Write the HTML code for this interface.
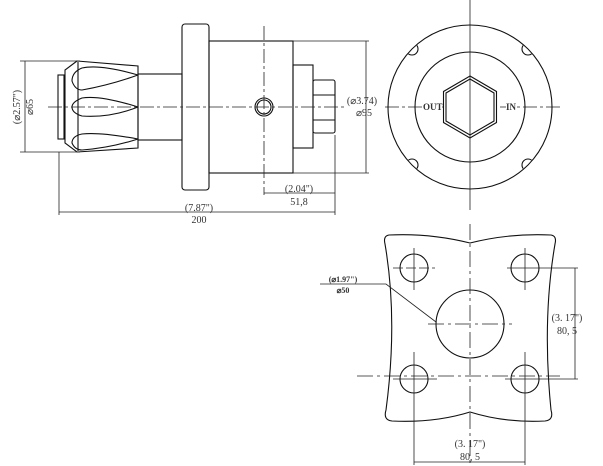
<!DOCTYPE html>
<html><head><style>
html,body{margin:0;padding:0;background:#fff;width:603px;height:466px;overflow:hidden}
svg text{font-family:"Liberation Serif",serif;fill:#333}
</style></head><body>
<svg width="603" height="466" viewBox="0 0 603 466" xmlns="http://www.w3.org/2000/svg">
<defs><clipPath id="oc"><circle cx="470" cy="107" r="81.4"/></clipPath></defs>
<g fill="none" stroke="#111" stroke-width="1.1">
<!-- left view -->
<rect x="182" y="24" width="27" height="166" rx="3"/>
<rect x="209" y="41" width="84" height="132"/>
<rect x="293" y="65" width="20" height="83"/>
<rect x="313" y="80" width="22" height="53" rx="2"/>
<line x1="313" y1="95" x2="335" y2="95"/><line x1="313" y1="120" x2="335" y2="120"/>
<rect x="138" y="74" width="44" height="66"/>
<path d="M77 61 L138 66 L138 148 L77 152 L65 143 L65 70 Z"/>
<rect x="58" y="75" width="6" height="64"/>
<line x1="78" y1="62" x2="78" y2="151"/>
<path d="M138 75 Q100 64 82 68 Q72 72 72 81 Q75 90 82 90 Q110 85 138 75"/>
<path d="M138 107 Q100 95 82 98 Q72 102 72 107 Q72 113 82 116 Q110 118 138 107"/>
<path d="M138 139 Q100 132 82 134 Q72 136 72 143 Q75 150 82 150 Q110 148 138 139"/>
<circle cx="264" cy="107" r="9"/><circle cx="264" cy="107" r="7"/>
</g>
<g stroke="#222" stroke-width="0.8" fill="none">
<line x1="48" y1="107" x2="345" y2="107" stroke-dasharray="14,3,3,3"/>
<line x1="264" y1="26" x2="264" y2="195" stroke-dasharray="14,3,3,3"/>
<line x1="20" y1="61" x2="80" y2="61"/><line x1="20" y1="152" x2="80" y2="152"/>
<line x1="25" y1="61" x2="25" y2="152"/>
<line x1="293" y1="41" x2="369" y2="41"/><line x1="293" y1="173" x2="369" y2="173"/>
<line x1="366" y1="41" x2="366" y2="173"/>
<line x1="264" y1="193" x2="335" y2="193"/><line x1="335" y1="135" x2="335" y2="215"/>
<line x1="59" y1="152" x2="59" y2="215"/>
<line x1="59" y1="212" x2="335" y2="212"/>
</g>
<g font-size="10">
<text transform="translate(20,107) rotate(-90)" text-anchor="middle">(⌀2.57")</text>
<text transform="translate(33,107) rotate(-90)" text-anchor="middle">⌀65</text>
<text x="362" y="104" text-anchor="middle">(⌀3.74)</text>
<text x="364" y="116" text-anchor="middle">⌀95</text>
<text x="299" y="192" text-anchor="middle">(2.04")</text>
<text x="299" y="205" text-anchor="middle">51,8</text>
<text x="199" y="211" text-anchor="middle">(7.87")</text>
<text x="199" y="223" text-anchor="middle">200</text>
</g>
<!-- right view -->
<g stroke="#222" stroke-width="0.8">
<line x1="470" y1="0" x2="470" y2="210"/>
<line x1="385" y1="107" x2="560" y2="107" stroke-dasharray="14,3,3,3"/>
</g>
<g fill="none" stroke="#111" stroke-width="1.1">
<circle cx="470" cy="107" r="82"/>
<circle cx="470" cy="107" r="55"/>
<polygon points="470,76 496.5,91.5 496.5,122.5 470,138 443.5,122.5 443.5,91.5" fill="#fff"/>
<polygon points="470,79 494,93 494,121 470,135 446,121 446,93"/>
<g fill="#fff" clip-path="url(#oc)">
<circle cx="412" cy="49" r="6"/><circle cx="528" cy="49" r="6"/>
<circle cx="412" cy="165" r="6"/><circle cx="528" cy="165" r="6"/>
</g>
</g>
<line x1="470" y1="76" x2="470" y2="138" stroke="#222" stroke-width="0.8"/>
<g font-size="9" font-weight="bold">
<rect x="423" y="101" width="19" height="11" fill="#fff"/><text x="423" y="110">OUT</text>
<rect x="506" y="101" width="11" height="11" fill="#fff"/><text x="506" y="110">IN</text></g>
<!-- bottom view -->
<g fill="none" stroke="#111" stroke-width="1.1">
<path d="M389 235 Q430 233 470 243 Q510 233 551 235 Q557 236 555 244 Q542 320 551 410 Q554 420 545 421 Q505 423 470 412 Q435 423 392 421 Q383 420 386 410 Q398 320 385 244 Q383 236 389 235 Z"/>
<circle cx="470" cy="324" r="34"/>
<circle cx="414" cy="268" r="14"/><circle cx="525" cy="268" r="14"/>
<circle cx="414" cy="379" r="14"/><circle cx="525" cy="379" r="14"/>
</g>
<g stroke="#222" stroke-width="0.8" fill="none">
<line x1="470" y1="224" x2="470" y2="466" stroke-dasharray="16,4,3,4"/>
<line x1="357" y1="376" x2="560" y2="376" stroke-dasharray="16,4,3,4"/>
<line x1="428" y1="324" x2="512" y2="324" stroke-dasharray="16,4,3,4"/>
<line x1="393" y1="268" x2="435" y2="268" stroke-dasharray="10,3"/><line x1="414" y1="248" x2="414" y2="290"/>
<line x1="507" y1="268" x2="578" y2="268"/><line x1="525" y1="248" x2="525" y2="290"/>
<line x1="393" y1="379" x2="437" y2="379"/><line x1="414" y1="352" x2="414" y2="465"/>
<line x1="505" y1="379" x2="578" y2="379"/><line x1="525" y1="352" x2="525" y2="465"/>
<line x1="575" y1="268" x2="575" y2="379"/>
<line x1="414" y1="462" x2="525" y2="462"/>
<polyline points="320,284 386,284 436,322"/>
</g>
<g font-size="10">
<text x="343" y="282" text-anchor="middle" font-size="8" font-weight="bold">(⌀1.97")</text>
<text x="343" y="293" text-anchor="middle" font-size="8" font-weight="bold">⌀50</text>
<text x="567" y="321" text-anchor="middle">(3. 17")</text>
<text x="567" y="334" text-anchor="middle">80, 5</text>
<text x="470" y="447" text-anchor="middle">(3. 17")</text>
<text x="470" y="460" text-anchor="middle">80, 5</text>
</g>
</svg>
</body></html>
